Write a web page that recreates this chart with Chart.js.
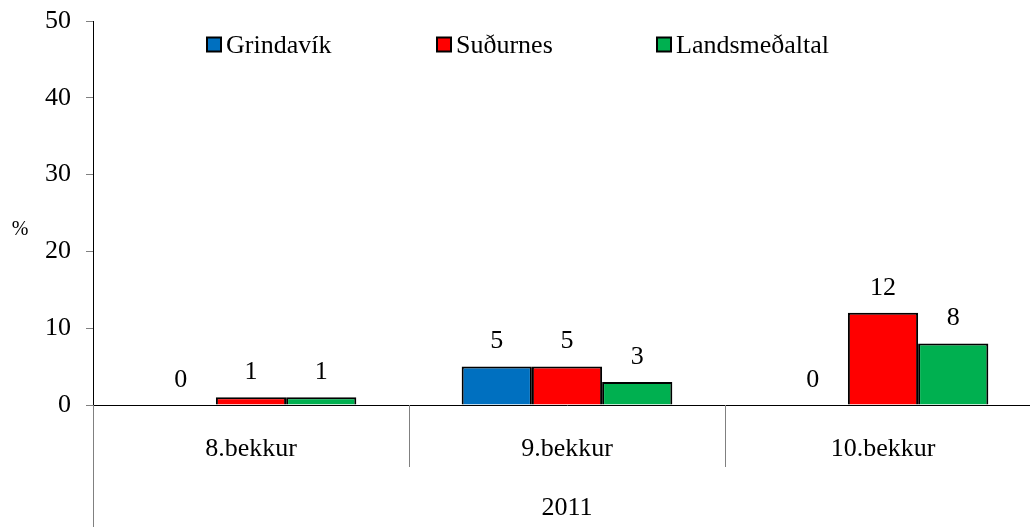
<!DOCTYPE html>
<html>
<head>
<meta charset="utf-8">
<script src="https://cdn.jsdelivr.net/npm/chart.js@4.4.0/dist/chart.umd.min.js"></script>
<style>
  html, body { margin: 0; padding: 0; background: #fff; overflow: hidden; }
  #wrap { width: 1041px; height: 527px; position: relative; }
</style>
</head>
<body>
<div id="wrap"><canvas id="chart"></canvas></div>
<script>
// Dados do gráfico
const categories = ["8.bekkur", "9.bekkur", "10.bekkur"];
const groupLabel = "2011";
const seriesNames = ["Grindavík", "Suðurnes", "Landsmeðaltal"];
const grindavik = [0, 5, 0];
const sudurnes = [1, 5, 12];
const landsmedaltal = [1, 3, 8];
const seriesColors = ["#0070C0", "#FF0000", "#00B050"];

const FONT = "'Liberation Serif', 'Times New Roman', serif";
const FS = 26;

// Rótulos de valor acima das barras
const valueLabels = {
    id: 'valueLabels',
    afterDatasetsDraw(chart) {
        const ctx = chart.ctx;
        ctx.save();
        ctx.font = FS + "px " + FONT;
        ctx.fillStyle = "#000";
        ctx.textAlign = "center";
        ctx.textBaseline = "middle";
        chart.data.datasets.forEach((ds, di) => {
            chart.getDatasetMeta(di).data.forEach((bar, i) => {
                ctx.fillText(String(ds.data[i]), bar.x, bar.y - 25);
            });
        });
        ctx.restore();
    }
};

// Separadores do eixo x, "%" e legenda manual
const extras = {
    id: 'extras',
    afterDraw(chart) {
        const ctx = chart.ctx;
        const x = chart.scales.x;
        const area = chart.chartArea;
        const step = x.getPixelForValue(1) - x.getPixelForValue(0);
        ctx.save();
        ctx.strokeStyle = "#808080";
        ctx.lineWidth = 1;
        ctx.beginPath();
        ctx.moveTo(area.left + 0.5, area.bottom);
        ctx.lineTo(area.left + 0.5, 527);
        for (let i = 0; i < categories.length - 1; i++) {
            const px = Math.round(x.getPixelForValue(i) + step / 2) + 0.5;
            ctx.moveTo(px, area.bottom);
            ctx.lineTo(px, area.bottom + 62);
        }
        ctx.stroke();

        ctx.fillStyle = "#000";
        ctx.font = FS + "px " + FONT;
        ctx.textAlign = "center";
        ctx.textBaseline = "middle";
        ctx.fillText(groupLabel, (area.left + area.right) / 2, 508);
        ctx.font = "20px " + FONT;
        ctx.fillText("%", 20, 230);

        // legenda
        const legendX = [207, 437, 657];
        ctx.font = FS + "px " + FONT;
        ctx.textAlign = "left";
        seriesNames.forEach((name, i) => {
            ctx.fillStyle = seriesColors[i];
            ctx.fillRect(legendX[i], 37.5, 14, 14);
            ctx.strokeStyle = "#000";
            ctx.lineWidth = 2;
            ctx.strokeRect(legendX[i], 37.5, 14, 14);
            ctx.fillStyle = "#000";
            ctx.fillText(name, legendX[i] + 19, 46);
        });
        ctx.restore();
    }
};

const datasets = [grindavik, sudurnes, landsmedaltal].map((values, i) => ({
    label: seriesNames[i],
    data: values,
    backgroundColor: seriesColors[i],
    borderColor: "#000",
    borderWidth: 2,
    categoryPercentage: 3 / 4.5,
    barPercentage: 1
}));

new Chart(document.getElementById("chart"), {
    type: "bar",
    data: { labels: categories, datasets: datasets },
    options: {
        responsive: true,
        maintainAspectRatio: false,
        animation: false,
        layout: { padding: { top: 21, left: 0, right: 0, bottom: 0 } },
        plugins: {
            legend: { display: false },
            tooltip: { enabled: false }
        },
        scales: {
            x: {
                grid: { display: true, drawOnChartArea: false, drawTicks: false, color: "rgba(0,0,0,0)" },
                border: { display: true, color: "#000", width: 1 },
                ticks: { color: "#000", font: { family: FONT, size: FS }, padding: 29 },
                afterFit: s => { s.height = 122; s.paddingLeft = 0; s.paddingRight = 0; }
            },
            y: {
                min: 0,
                max: 50,
                ticks: { stepSize: 10, color: "#000", font: { family: FONT, size: FS }, padding: 15 },
                grid: { display: true, drawOnChartArea: false, drawTicks: true, tickLength: 7, color: "#808080" },
                border: { display: true, color: "#000", width: 1 },
                afterFit: s => { s.width = 93; s.paddingTop = 0; s.paddingBottom = 0; }
            }
        }
    },
    plugins: [valueLabels, extras]
});
</script>
</body>
</html>
